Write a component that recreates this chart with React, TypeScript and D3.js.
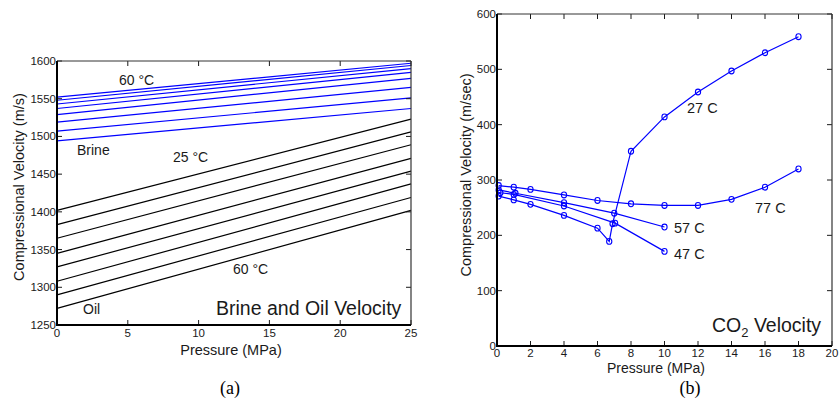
import React from 'react';
import * as d3 from 'd3';

// (a) brine and oil: velocity at 0 and 25 MPa, one entry per temperature
const pressureEnds = [0, 25];
const brineStart = [1552, 1548, 1543, 1537, 1529, 1519, 1507, 1494];
const brineEnd = [1597, 1594, 1590, 1585, 1577, 1565, 1551, 1537];
const oilStart = [1402, 1383, 1365, 1345, 1327, 1308, 1290, 1272];
const oilEnd = [1523, 1506, 1489, 1471, 1454, 1437, 1419, 1402];
const leftXTicks = [0, 5, 10, 15, 20, 25];
const leftYTicks = [1250, 1300, 1350, 1400, 1450, 1500, 1550, 1600];

// (b) CO2
const co2P27 = [0.1, 1, 2, 4, 6, 6.7, 6.9, 8, 10, 12, 14, 16, 18];
const co2V27 = [271, 264, 256, 236, 213, 189, 221, 352, 414, 459, 497, 530, 559];
const co2P47 = [0.2, 1, 4, 7.05, 10];
const co2V47 = [277, 274, 253, 222, 171];
const co2P57 = [0.1, 1.1, 4, 7, 10];
const co2V57 = [282, 276, 259, 240, 215];
const co2P77 = [0.1, 1, 2, 4, 6, 8, 10, 12, 14, 16, 18];
const co2V77 = [290, 287, 283, 273, 263, 257, 254, 254, 265, 287, 320];
const rightXTicks = [0, 2, 4, 6, 8, 10, 12, 14, 16, 18, 20];
const rightYTicks = [0, 100, 200, 300, 400, 500, 600];

const FONT = "'Liberation Sans', Arial, sans-serif";
const INK = '#1a1a1a';
const BLUE = '#0000ff';

function Frame({ x, y, xTicks, yTicks, labelGap }) {
  const [x0, x1] = x.range();
  const [y0, y1] = y.range();
  const t = 5;
  return (
    <g>
      {xTicks.map((v) => (
        <g key={'x' + v}>
          <line x1={x(v)} x2={x(v)} y1={y0} y2={y0 - t} stroke={INK} />
          <line x1={x(v)} x2={x(v)} y1={y1} y2={y1 + t} stroke={INK} />
          <text x={x(v)} y={y0 + labelGap} textAnchor="middle" fontSize={11.5} fill={INK}>{v}</text>
        </g>
      ))}
      {yTicks.map((v) => (
        <g key={'y' + v}>
          <line x1={x0} x2={x0 + t} y1={y(v)} y2={y(v)} stroke={INK} />
          <line x1={x1} x2={x1 - t} y1={y(v)} y2={y(v)} stroke={INK} />
          <text x={x0 - 1} y={y(v) + 4} textAnchor="end" fontSize={11.5} fill={INK}>{v}</text>
        </g>
      ))}
      <line x1={x0} x2={x1} y1={y1} y2={y1} stroke="#333" strokeWidth={1} />
      <line x1={x1} x2={x1} y1={y0} y2={y1} stroke="#333" strokeWidth={1.2} />
      <line x1={x0} x2={x0} y1={y0 + 1} y2={y1} stroke="#000" strokeWidth={2} />
      <line x1={x0 - 1} x2={x1} y1={y0} y2={y0} stroke="#000" strokeWidth={2} />
    </g>
  );
}

export default function App() {
  const xa = d3.scaleLinear().domain([0, 25]).range([57, 411]);
  const ya = d3.scaleLinear().domain([1250, 1600]).range([325, 61]);
  const xb = d3.scaleLinear().domain([0, 20]).range([497, 832]);
  const yb = d3.scaleLinear().domain([0, 600]).range([346, 14]);

  const lineA = d3.line<[number, number]>().x((d) => xa(d[0])).y((d) => ya(d[1]));
  const lineB = d3.line<[number, number]>().x((d) => xb(d[0])).y((d) => yb(d[1]));

  const brine = brineStart.map((s, i) => [[pressureEnds[0], s], [pressureEnds[1], brineEnd[i]]]);
  const oil = oilStart.map((s, i) => [[pressureEnds[0], s], [pressureEnds[1], oilEnd[i]]]);

  const co2 = [
    d3.zip(co2P27, co2V27),
    d3.zip(co2P47, co2V47),
    d3.zip(co2P57, co2V57),
    d3.zip(co2P77, co2V77),
  ];

  return (
    <svg width={840} height={420} style={{ position: 'absolute', left: 0, top: 0, background: '#fff' }} fontFamily={FONT}>
      {/* (a) */}
      {brine.map((d, i) => (
        <path key={'b' + i} d={lineA(d)} fill="none" stroke={BLUE} strokeWidth={1.2} />
      ))}
      {oil.map((d, i) => (
        <path key={'o' + i} d={lineA(d)} fill="none" stroke="#000" strokeWidth={1.2} />
      ))}
      <Frame x={xa} y={ya} xTicks={leftXTicks} yTicks={leftYTicks} labelGap={12} />
      <g fontSize={14} fill={INK}>
        <text x={119} y={85}>60 °C</text>
        <text x={77} y={155}>Brine</text>
        <text x={173} y={162}>25 °C</text>
        <text x={233} y={274}>60 °C</text>
        <text x={83} y={314}>Oil</text>
      </g>
      <text x={216} y={315} fontSize={19.5} fill={INK}>Brine and Oil Velocity</text>
      <text x={231} y={355} textAnchor="middle" fontSize={14.5} fill={INK}>Pressure (MPa)</text>
      <text transform="translate(24,187) rotate(-90)" textAnchor="middle" fontSize={14.5} fill={INK}>
        Compressional Velocity (m/s)
      </text>

      {/* (b) */}
      {co2.map((s, i) => (
        <g key={'c' + i}>
          <path d={lineB(s)} fill="none" stroke={BLUE} strokeWidth={1.2} />
          {s.map((d, j) => (
            <ellipse key={j} cx={xb(d[0])} cy={yb(d[1])} rx={2.6} ry={2.9} fill="none" stroke={BLUE} strokeWidth={1.1} />
          ))}
        </g>
      ))}
      <Frame x={xb} y={yb} xTicks={rightXTicks} yTicks={rightYTicks} labelGap={11} />
      <g fontSize={14.5} fill={INK}>
        <text x={687} y={113}>27 C</text>
        <text x={755} y={213}>77 C</text>
        <text x={674} y={233}>57 C</text>
        <text x={674} y={259}>47 C</text>
      </g>
      <text x={712} y={332} fontSize={19.5} fill={INK}>
        CO<tspan fontSize={13} dy={5}>2</tspan><tspan dy={-5}> Velocity</tspan>
      </text>
      <text x={656} y={373} textAnchor="middle" fontSize={14} fill={INK}>Pressure (MPa)</text>
      <text transform="translate(471,175) rotate(-90)" textAnchor="middle" fontSize={14.5} fill={INK}>
        Compressional Velocity (m/sec)
      </text>

      <g fontFamily="'Liberation Serif', 'Times New Roman', serif" fontSize={18} fill="#000">
        <text x={230} y={394} textAnchor="middle">(a)</text>
        <text x={690} y={394} textAnchor="middle">(b)</text>
      </g>
    </svg>
  );
}
